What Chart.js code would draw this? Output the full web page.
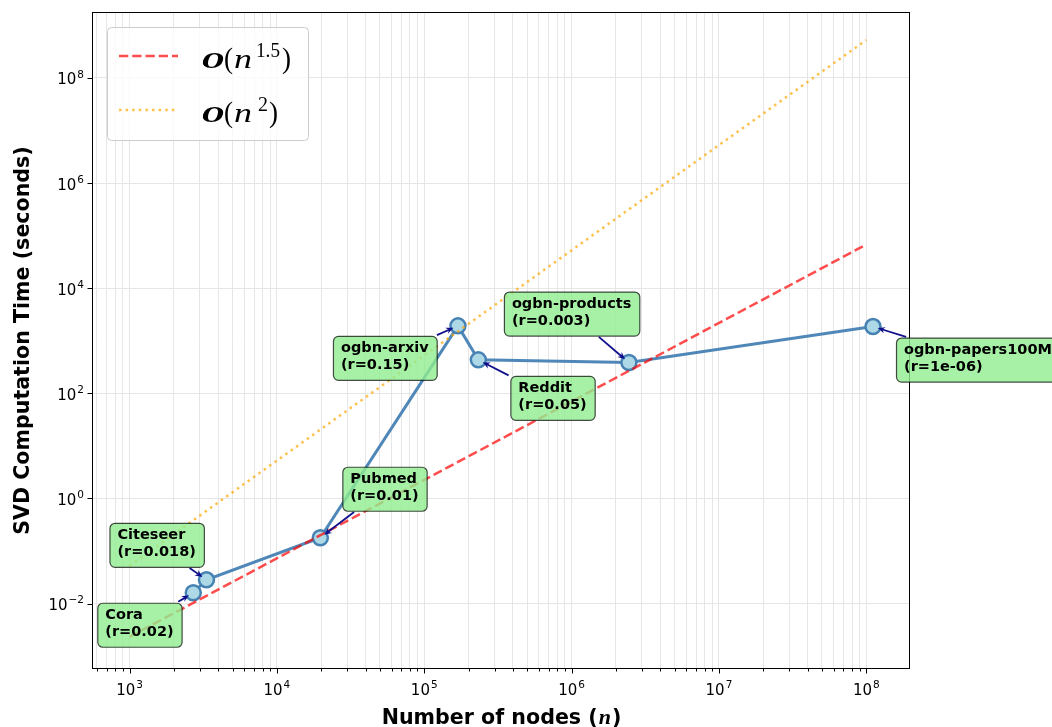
<!DOCTYPE html>
<html>
<head>
<meta charset="utf-8">
<script src="https://cdn.jsdelivr.net/npm/chart.js@4.4.0/dist/chart.umd.min.js"></script>
<style>
    html, body { margin: 0; padding: 0; background: #fff; }
    #wrap { width: 1052px; height: 727px; position: relative; }
</style>
</head>
<body>
<div id="wrap"><canvas id="svd-scaling-chart" width="1052" height="727"></canvas></div>
<script>
// graph datasets, sorted by node count
var graphNames = ["Cora", "Citeseer", "Pubmed", "ogbn-arxiv", "Reddit", "ogbn-products", "ogbn-papers100M"];
var nodeCounts = [2708, 3327, 19717, 169343, 232965, 2449029, 111059956];
var svdSeconds = [0.0161, 0.0284, 0.179, 1919, 433, 385, 1862];
var ratioLabels = ["0.02", "0.018", "0.01", "0.15", "0.05", "0.003", "1e-06"];

// reference complexity curves (end points)
var refNodes = [1e3, 1e8];
var refN15 = [0.00234, 67600];
var refN2 = [0.0525, 5.25e8];

var xTickExps = [3, 4, 5, 6, 7, 8];
var yTickExps = [-2, 0, 2, 4, 6, 8];
var xRange = [565, 1.98e8];
var yRange = [5.71e-4, 1.79e9];

var xGridValues = [];
for (var k = 2; k <= 8; k++) {
    for (var m = 1; m <= 9; m++) {
        var v = m * Math.pow(10, k);
        if (v >= xRange[0] && v <= xRange[1]) xGridValues.push(v);
    }
}
var yGridValues = yTickExps.map(function (e) { return Math.pow(10, e); });

function toPoints(xs, ys) {
    var pts = [];
    for (var i = 0; i < xs.length; i++) pts.push({ x: xs[i], y: ys[i] });
    return pts;
}

// annotation box top-left, relative to the marker (px)
var labelOffsets = [[-96, 10], [-97, -57], [22, -71], [-125, 10], [32, 16], [-125, -71], [23, 11]];

function drawPower(ctx, x, y, exp, size, align) {
    var base = "10";
    var expText = String(exp).replace("-", "\u2212");
    ctx.font = size + "px 'DejaVu Sans'";
    var wb = ctx.measureText(base).width;
    ctx.font = (size * 0.7) + "px 'DejaVu Sans'";
    var we = ctx.measureText(expText).width;
    var left = align === "right" ? x - wb - we - 1 : x - (wb + we + 1) / 2;
    ctx.textAlign = "left";
    ctx.textBaseline = "alphabetic";
    ctx.font = size + "px 'DejaVu Sans'";
    ctx.fillText(base, left, y);
    ctx.font = (size * 0.7) + "px 'DejaVu Sans'";
    ctx.fillText(expText, left + wb + 1, y - size * 0.45);
}

function drawFitted(ctx, text, font, left, width, baseline) {
    ctx.font = font;
    var w = ctx.measureText(text).width;
    ctx.save();
    ctx.translate(left, baseline);
    ctx.scale(width / w, 1);
    ctx.fillText(text, 0, 0);
    ctx.restore();
}

function drawLegend(ctx) {
    ctx.save();
    ctx.beginPath();
    ctx.roundRect(107.5, 27.5, 201, 113, 4);
    ctx.fillStyle = "rgba(255,255,255,0.8)";
    ctx.fill();
    ctx.strokeStyle = "#cccccc";
    ctx.lineWidth = 1;
    ctx.stroke();

    ctx.lineWidth = 2.5;
    ctx.strokeStyle = "rgba(255,0,0,0.7)";
    ctx.setLineDash([9.25, 4]);
    ctx.beginPath(); ctx.moveTo(119, 56); ctx.lineTo(178, 56); ctx.stroke();
    ctx.strokeStyle = "rgba(255,165,0,0.7)";
    ctx.setLineDash([2.5, 4.1]);
    ctx.beginPath(); ctx.moveTo(119, 110); ctx.lineTo(178, 110); ctx.stroke();
    ctx.setLineDash([]);

    ctx.fillStyle = "#000";
    ctx.textAlign = "left";
    ctx.textBaseline = "alphabetic";
    var rows = [[67.5, "1.5", 256, 24, 282], [121.5, "2", 258, 10, 269]];
    rows.forEach(function (r) {
        var b = r[0];
        drawFitted(ctx, "O", "bold italic 21px 'DejaVu Serif'", 202, 22, b);
        drawFitted(ctx, "(", "30px 'Liberation Serif'", 224, 9, b);
        drawFitted(ctx, "n", "italic 27px 'Liberation Serif'", 234, 18, b);
        drawFitted(ctx, r[1], "20px 'Liberation Serif'", r[2], r[3], b - 11);
        drawFitted(ctx, ")", "30px 'Liberation Serif'", r[4], 9, b);
    });
    ctx.restore();
}

function drawArrow(ctx, box, px, py) {
    var cx = box.x + box.w / 2, cy = box.y + box.h / 2;
    var dx = px - cx, dy = py - cy;
    var tx = dx !== 0 ? ((dx > 0 ? box.x + box.w : box.x) - cx) / dx : Infinity;
    var ty = dy !== 0 ? ((dy > 0 ? box.y + box.h : box.y) - cy) / dy : Infinity;
    var t = Math.min(tx, ty);
    var len = Math.sqrt(dx * dx + dy * dy);
    var ux = dx / len, uy = dy / len;
    var sx = cx + dx * t + ux * 2, sy = cy + dy * t + uy * 2;
    var ex = px - ux * 5, ey = py - uy * 5;
    var ang = Math.atan2(uy, ux);
    var hl = 8, hw = 0.42;
    ctx.strokeStyle = "#10108c";
    ctx.fillStyle = "#10108c";
    ctx.lineWidth = 1.8;
    ctx.beginPath();
    ctx.moveTo(sx, sy);
    ctx.lineTo(ex - ux * 4, ey - uy * 4);
    ctx.stroke();
    ctx.beginPath();
    ctx.moveTo(ex - hl * Math.cos(ang - hw), ey - hl * Math.sin(ang - hw));
    ctx.lineTo(ex, ey);
    ctx.lineTo(ex - hl * Math.cos(ang + hw), ey - hl * Math.sin(ang + hw));
    ctx.lineTo(ex - ux * 5, ey - uy * 5);
    ctx.closePath();
    ctx.fill();
}

var extrasPlugin = {
    id: "svdExtras",
    afterDraw: function (chart) {
        var ctx = chart.ctx;
        var xs = chart.scales.x, ys = chart.scales.y, area = chart.chartArea;
        ctx.save();

        // spines
        ctx.strokeStyle = "#000";
        ctx.lineWidth = 1;
        var L = Math.round(area.left) - 0.5, R = Math.round(area.right) - 0.5;
        var T = Math.round(area.top) + 0.5, B = Math.round(area.bottom) - 0.5;
        ctx.strokeRect(L, T, R - L, B - T);

        // tick marks
        ctx.beginPath();
        xGridValues.forEach(function (v) {
            var px = Math.round(xs.getPixelForValue(v)) + 0.5;
            var major = Math.abs(Math.log10(v) - Math.round(Math.log10(v))) < 1e-9;
            ctx.moveTo(px, B); ctx.lineTo(px, B + (major ? 5 : 3));
        });
        yGridValues.forEach(function (v) {
            var py = Math.round(ys.getPixelForValue(v)) + 0.5;
            ctx.moveTo(L, py); ctx.lineTo(L - 5, py);
        });
        ctx.stroke();

        // tick labels
        ctx.fillStyle = "#000";
        xTickExps.forEach(function (e) {
            drawPower(ctx, xs.getPixelForValue(Math.pow(10, e)), 694.5, e, 15, "center");
        });
        yTickExps.forEach(function (e) {
            drawPower(ctx, 84, ys.getPixelForValue(Math.pow(10, e)) + 6.5, e, 15, "right");
        });

        // axis titles
        var titleFont = "bold 20.6px 'DejaVu Sans'";
        ctx.textBaseline = "alphabetic";
        ctx.font = titleFont;
        var t1 = "Number of nodes (", t3 = ")";
        var w1 = ctx.measureText(t1).width, w3 = ctx.measureText(t3).width;
        ctx.font = "bold italic 22px 'Liberation Serif'";
        var w2 = ctx.measureText("n").width + 2;
        var startX = (area.left + area.right) / 2 - (w1 + w2 + w3) / 2;
        ctx.textAlign = "left";
        ctx.font = titleFont;
        ctx.fillText(t1, startX, 724);
        ctx.font = "bold italic 22px 'Liberation Serif'";
        ctx.fillText("n", startX + w1 + 1, 724);
        ctx.font = titleFont;
        ctx.fillText(t3, startX + w1 + w2, 724);

        ctx.save();
        ctx.translate(28.5, (area.top + area.bottom) / 2);
        ctx.rotate(-Math.PI / 2);
        ctx.textAlign = "center";
        ctx.fillText("SVD Computation Time (seconds)", 0, 0);
        ctx.restore();

        drawLegend(ctx);

        // annotations
        for (var i = 0; i < graphNames.length; i++) {
            var px = xs.getPixelForValue(nodeCounts[i]);
            var py = ys.getPixelForValue(svdSeconds[i]);
            var lines = [graphNames[i], "(r=" + ratioLabels[i] + ")"];
            ctx.font = "bold 14.5px 'DejaVu Sans'";
            var tw = Math.max(ctx.measureText(lines[0]).width, ctx.measureText(lines[1]).width);
            var box = { x: px + labelOffsets[i][0], y: py + labelOffsets[i][1], w: tw + 16, h: 44 };
            drawArrow(ctx, box, px, py);
            ctx.beginPath();
            ctx.roundRect(box.x + 0.5, box.y + 0.5, box.w, box.h, 5);
            ctx.fillStyle = "rgba(144,238,144,0.8)";
            ctx.fill();
            ctx.strokeStyle = "rgba(0,0,0,0.7)";
            ctx.lineWidth = 1.2;
            ctx.stroke();
            ctx.fillStyle = "#000";
            ctx.textAlign = "left";
            ctx.textBaseline = "alphabetic";
            ctx.fillText(lines[0], box.x + 8, box.y + 16);
            ctx.fillText(lines[1], box.x + 8, box.y + 33);
        }
        ctx.restore();
    }
};

var ctx = document.getElementById("svd-scaling-chart").getContext("2d");
var svdChart = new Chart(ctx, {
    type: "line",
    data: {
        datasets: [
            {
                label: "SVD time",
                data: toPoints(nodeCounts, svdSeconds),
                borderColor: "rgba(70,130,180,0.95)",
                borderWidth: 3,
                pointRadius: 7.5,
                pointBackgroundColor: "#add8e6",
                pointBorderColor: "#4682b4",
                pointBorderWidth: 2.5,
                tension: 0,
                order: 3
            },
            {
                label: "O(n^1.5)",
                data: toPoints(refNodes, refN15),
                borderColor: "rgba(255,0,0,0.7)",
                borderWidth: 2.5,
                borderDash: [9.25, 4],
                pointRadius: 0,
                order: 1
            },
            {
                label: "O(n^2)",
                data: toPoints(refNodes, refN2),
                borderColor: "rgba(255,165,0,0.7)",
                borderWidth: 2.5,
                borderDash: [2.5, 4.1],
                pointRadius: 0,
                order: 2
            }
        ]
    },
    options: {
        responsive: false,
        animation: false,
        devicePixelRatio: 1,
        layout: { padding: { left: 93, top: 12, right: 142, bottom: 58 } },
        plugins: { legend: { display: false }, tooltip: { enabled: false } },
        scales: {
            x: {
                type: "logarithmic",
                min: xRange[0],
                max: xRange[1],
                afterBuildTicks: function (scale) {
                    scale.ticks = xGridValues.map(function (v) { return { value: v }; });
                },
                ticks: { display: false },
                grid: { color: "#e6e6e6", lineWidth: 1, drawTicks: false },
                border: { display: false }
            },
            y: {
                type: "logarithmic",
                min: yRange[0],
                max: yRange[1],
                afterBuildTicks: function (scale) {
                    scale.ticks = yGridValues.map(function (v) { return { value: v }; });
                },
                ticks: { display: false },
                grid: { color: "#e6e6e6", lineWidth: 1, drawTicks: false },
                border: { display: false }
            }
        }
    },
    plugins: [extrasPlugin]
});
</script>
</body>
</html>
